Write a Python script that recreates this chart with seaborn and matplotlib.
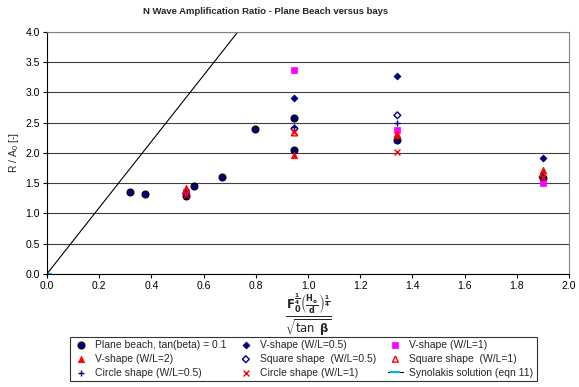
import numpy as np
import pandas as pd
import seaborn as sns
import matplotlib as mpl
import matplotlib.pyplot as plt

sns.set_style("white")
plt.rcParams['font.family'] = ['Liberation Sans', 'DejaVu Sans']
plt.rcParams['mathtext.default'] = 'bf'

# 数据
plane_x = [0.318, 0.377, 0.533, 0.564, 0.672, 0.797, 0.948, 0.948, 1.342, 1.898]
plane_y = [1.35, 1.32, 1.28, 1.46, 1.60, 2.40, 2.58, 2.05, 2.22, 1.58]

bay_x = [0.533, 0.948, 1.342, 1.898]
v05_y = [1.34, 2.91, 3.27, 1.91]
v1_y = [1.35, 3.37, 2.37, 1.51]
v2_y = [1.42, 1.96, 2.29, 1.72]
sq05_y = [1.33, 2.40, 2.62, 1.60]
sq1_y = [1.38, 2.33, 2.30, 1.65]
c05_y = [1.30, 2.42, 2.49, 1.60]
c1_y = [1.30, 2.35, 2.02, 1.60]

syn_x = [0.0, 0.75]
syn_y = [0.0, 4.1]

fig = plt.figure(figsize=(5.79, 3.87), dpi=100)
ax = fig.add_axes([0.081, 0.292, 0.902, 0.626])

navy = '#000080'
red = '#ff0000'
mag = '#ff00ff'

sns.lineplot(x=syn_x, y=syn_y, ax=ax, color='black', lw=0.8, marker='_',
             markersize=7, markeredgecolor='#00b0f0', markeredgewidth=1.5,
             label='Synolakis solution (eqn 11)', zorder=2, legend=False)

sns.scatterplot(x=plane_x, y=plane_y, ax=ax, marker='o', s=25, color=navy,
                edgecolor='black', linewidth=0.8, label='Plane beach, tan(beta) = 0.1', zorder=3)
sns.scatterplot(x=bay_x, y=v05_y, ax=ax, marker='D', s=12, color=navy,
                edgecolor=navy, linewidth=0.6, label='V-shape (W/L=0.5)', zorder=3)
sns.scatterplot(x=bay_x, y=v1_y, ax=ax, marker='s', s=22, color=mag,
                edgecolor=mag, linewidth=0.5, label='V-shape (W/L=1)', zorder=3)
sns.scatterplot(x=bay_x, y=v2_y, ax=ax, marker='^', s=22, color=red,
                edgecolor=red, linewidth=0.5, label='V-shape (W/L=2)', zorder=3)
sns.scatterplot(x=bay_x, y=sq05_y, ax=ax, marker='D', s=12, facecolor='none',
                edgecolor=navy, linewidth=1.0, label='Square shape  (W/L=0.5)', zorder=3)
sns.scatterplot(x=bay_x, y=sq1_y, ax=ax, marker='^', s=18, facecolor='none',
                edgecolor=red, linewidth=1.0, label='Square shape  (W/L=1)', zorder=3)
sns.scatterplot(x=bay_x, y=c05_y, ax=ax, marker='+', s=25, color=navy,
                linewidth=1.0, label='Circle shape (W/L=0.5)', zorder=3)
sns.scatterplot(x=bay_x, y=c1_y, ax=ax, marker='x', s=18, color=red,
                linewidth=1.0, label='Circle shape (W/L=1)', zorder=3)
if ax.get_legend() is not None:
    ax.get_legend().remove()

ax.set_xlim(0, 2.0)
ax.set_ylim(0, 4.0)
ax.set_xticks(np.arange(0, 2.01, 0.2))
ax.set_yticks(np.arange(0, 4.01, 0.5))
ax.xaxis.set_major_formatter(mpl.ticker.FormatStrFormatter('%.1f'))
ax.yaxis.set_major_formatter(mpl.ticker.FormatStrFormatter('%.1f'))
ax.tick_params(axis='both', labelsize=7.5, direction='out', length=3, width=0.8,
               bottom=True, left=True, pad=2, colors='black')
ax.yaxis.grid(True, color='#404040', lw=0.8)
ax.xaxis.grid(False)
for sp in ax.spines.values():
    sp.set_color('black')
    sp.set_linewidth(0.8)
ax.spines['top'].set_color('#808080')
ax.spines['right'].set_color('#808080')

fig.text(0.459, 0.969, 'N Wave Amplification Ratio - Plane Beach versus bays',
         fontsize=6.8, fontweight='bold', ha='center', va='center')
ax.set_ylabel('R / A$_{\\mathregular{0}}$ [-]', fontsize=7.5, labelpad=3)
ax.set_xlabel(r'$\frac{F_0^{\frac{1}{4}}\left(\frac{H_o}{d}\right)^{\frac{1}{4}}}{\sqrt{\tan\ \beta}}$',
              fontsize=12, labelpad=1)

h, l = ax.get_legend_handles_labels()
order = ['Plane beach, tan(beta) = 0.1', 'V-shape (W/L=0.5)', 'V-shape (W/L=1)',
         'V-shape (W/L=2)', 'Square shape  (W/L=0.5)', 'Square shape  (W/L=1)',
         'Circle shape (W/L=0.5)', 'Circle shape (W/L=1)', 'Synolakis solution (eqn 11)']
hd = dict(zip(l, h))
# legend fills by column, so reorder to read row by row
colmajor = [order[i] for i in [0, 3, 6, 1, 4, 7, 2, 5, 8]]
leg = fig.legend([hd[k] for k in colmajor], colmajor, loc='lower center',
                 bbox_to_anchor=(0.524, 0.002), ncol=3, fontsize=7.5, frameon=True,
                 fancybox=False, edgecolor='black', handlelength=1.5,
                 columnspacing=1.1, borderpad=0.3, labelspacing=0.38, handletextpad=0.6)
leg.get_frame().set_linewidth(0.8)

fig.savefig('out.png', dpi=100)
